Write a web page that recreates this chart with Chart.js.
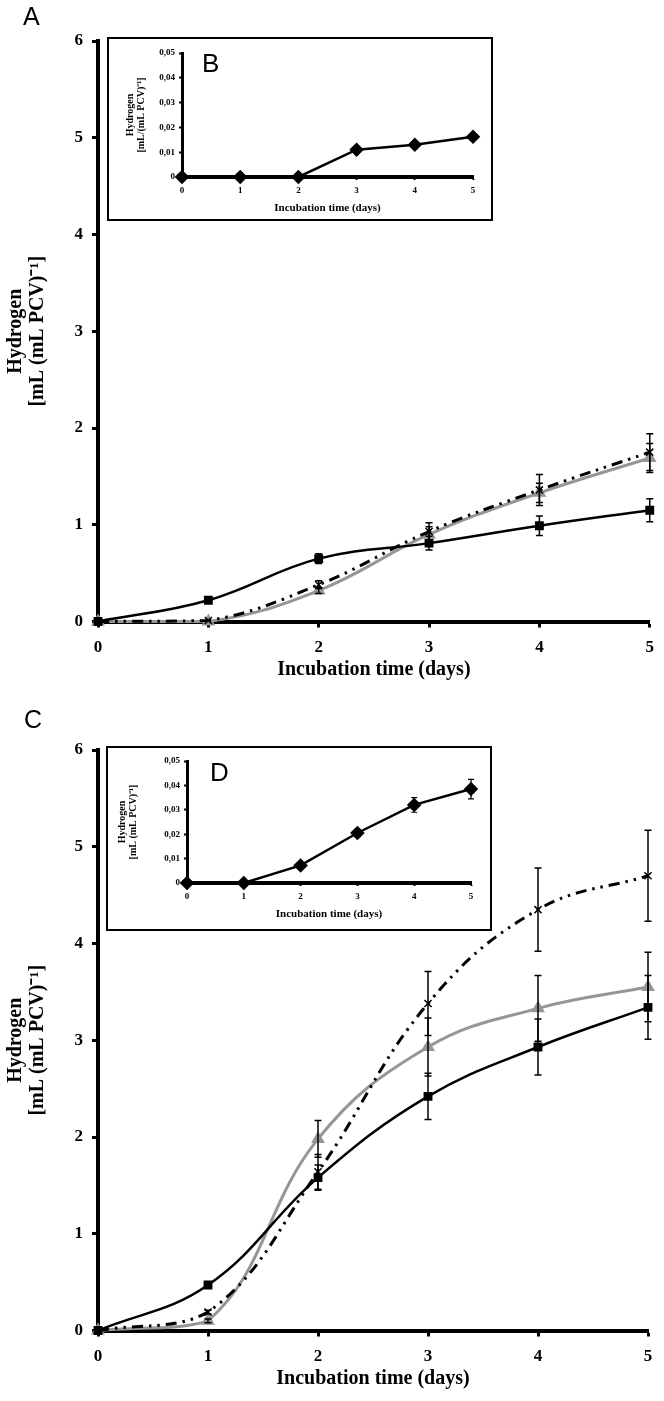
<!DOCTYPE html>
<html>
<head>
<meta charset="utf-8">
<script src="https://cdn.jsdelivr.net/npm/chart.js@4.4.1/dist/chart.umd.min.js"></script>
<style>
  body { margin: 0; background: #fff; }
  #wrap { position: relative; width: 664px; height: 1401px; overflow: hidden; }
  canvas { position: absolute; }
  .inset { position: absolute; box-sizing: border-box; border: 2px solid #000; background: #fff; }
  .inset canvas { left: 0; top: 0; }
  .letter { position: absolute; font-family: "Liberation Sans", Arial, sans-serif; line-height: 1; color: #000; }
</style>
</head>
<body>
<div id="wrap">
  <canvas id="chartA" width="664" height="692" style="left:0;top:0"></canvas>
  <div class="inset" style="left:107px;top:37px;width:386px;height:184px">
    <canvas id="chartB" width="382" height="180"></canvas>
  </div>
  <canvas id="chartC" width="664" height="692" style="left:0;top:709px"></canvas>
  <div class="inset" style="left:106px;top:746px;width:386px;height:185px">
    <canvas id="chartD" width="382" height="181"></canvas>
  </div>
  <div class="letter" style="left:23px;top:4px;font-size:25px">A</div>
  <div class="letter" style="left:202px;top:50px;font-size:26px">B</div>
  <div class="letter" style="left:24px;top:707px;font-size:25px">C</div>
  <div class="letter" style="left:210px;top:759px;font-size:26px">D</div>
</div>
<script>
// incubation days
var days = [0, 1, 2, 3, 4, 5];

// panel A (main)
var aSquare = [0, 0.22, 0.65, 0.81, 0.99, 1.15];
var aSquareErr = [0, 0.02, 0.05, 0.07, 0.10, 0.12];
var aCross = [0, 0.01, 0.38, 0.93, 1.36, 1.75];
var aCrossErr = [0, 0, 0.04, 0.09, 0.16, 0.19];
var aTri = [0, 0, 0.32, 0.90, 1.33, 1.69];
var aTriErr = [0, 0, 0.03, 0.08, 0.10, 0.15];

// panel B (inset of A)
var bDiamond = [0, 0, 0, 0.0110, 0.0130, 0.0162];

// panel C (main)
var cSquare = [0, 0.47, 1.58, 2.42, 2.93, 3.34];
var cSquareErr = [0, 0.03, 0.13, 0.24, 0.29, 0.33];
var cCross = [0, 0.19, 1.64, 3.38, 4.35, 4.70];
var cCrossErr = [0, 0.02, 0.18, 0.33, 0.43, 0.47];
var cTri = [0, 0.10, 1.98, 2.93, 3.33, 3.55];
var cTriErr = [0, 0.02, 0.19, 0.30, 0.34, 0.36];

// panel D (inset of C)
var dDiamond = [0, 0, 0.0072, 0.0205, 0.0320, 0.0385];
var dDiamondErr = [0, 0, 0.0008, 0.0015, 0.0030, 0.0040];

var mainTicks = { min: 0, max: 6, step: 1 };
var insetTicks = { min: 0, max: 0.05, step: 0.01 };

var serif = '"Liberation Serif", "Times New Roman", serif';

function pts(vals) {
  return days.map(function (d, i) { return { x: d, y: vals[i] }; });
}

// vertical error bars with caps, drawn through the chart's own scales
var errorBars = {
  id: 'errorBars',
  afterDatasetsDraw: function (chart) {
    var ctx = chart.ctx, x = chart.scales.x, y = chart.scales.y;
    chart.data.datasets.forEach(function (ds) {
      if (!ds.errors) return;
      ctx.save();
      ctx.strokeStyle = '#000';
      ctx.lineWidth = ds.errWidth || 1.5;
      ds.data.forEach(function (p, j) {
        var e = ds.errors[j];
        if (!e) return;
        var px = x.getPixelForValue(p.x);
        var top = y.getPixelForValue(p.y + e);
        var bot = y.getPixelForValue(p.y - e);
        var c = ds.capSize || 3.5;
        ctx.beginPath();
        ctx.moveTo(px, top); ctx.lineTo(px, bot);
        ctx.moveTo(px - c, top); ctx.lineTo(px + c, top);
        ctx.moveTo(px - c, bot); ctx.lineTo(px + c, bot);
        ctx.stroke();
      });
      ctx.restore();
    });
  }
};

function mainChart(id, sq, sqErr, cr, crErr, tr, trErr, padRight) {
  var H = 692, axisY = 621.5;
  var xHeight = H - axisY;
  return new Chart(document.getElementById(id).getContext('2d'), {
    type: 'line',
    data: {
      datasets: [{
        label: 'squares',
        data: pts(sq), errors: sqErr,
        borderColor: '#000', backgroundColor: '#000', borderWidth: 2.5,
        pointStyle: 'rect', pointRadius: 4.5, tension: 0.4, clip: false
      }, {
        label: 'crosses',
        data: pts(cr), errors: crErr,
        borderColor: '#000', backgroundColor: '#000', borderWidth: 3,
        borderDash: [11, 6, 2.5, 6, 2.5, 6],
        pointStyle: 'crossRot', pointRadius: 5, pointBorderWidth: 1.5, tension: 0.4, clip: false
      }, {
        label: 'triangles',
        data: pts(tr), errors: trErr,
        borderColor: '#969696', backgroundColor: '#969696', borderWidth: 3,
        pointStyle: 'triangle', pointRadius: 5, tension: 0.4, clip: false
      }]
    },
    options: {
      responsive: false,
      animation: false,
      layout: { padding: { left: 0, top: 41, right: padRight, bottom: 0 } },
      plugins: { legend: { display: false }, tooltip: { enabled: false } },
      scales: {
        x: {
          type: 'linear', min: 0, max: 5,
          afterFit: function (s) { s.height = xHeight; },
          ticks: { stepSize: 1, padding: 10, color: '#000', font: { family: serif, size: 17, weight: 'bold' } },
          grid: { drawOnChartArea: false, tickLength: 6, tickWidth: 3, tickColor: '#000' },
          border: { color: '#000', width: 4 },
          title: {
            display: true, text: 'Incubation time (days)', color: '#000',
            font: { family: serif, size: 20, weight: 'bold' },
            padding: { top: 0, bottom: xHeight - 48 - 12 }
          }
        },
        y: {
          min: mainTicks.min, max: mainTicks.max,
          afterFit: function (s) { s.width = 98; },
          ticks: { stepSize: mainTicks.step, padding: 9, color: '#000', font: { family: serif, size: 17, weight: 'bold' } },
          grid: { drawOnChartArea: false, tickLength: 6, tickWidth: 3, tickColor: '#000' },
          border: { color: '#000', width: 4 },
          title: {
            display: true, text: ['Hydrogen', '[mL (mL PCV)\u207B\u00B9]'], color: '#000',
            font: { family: serif, size: 20, weight: 'bold', lineHeight: 1.1 },
            padding: { top: 5, bottom: 0 }
          }
        }
      }
    },
    plugins: [errorBars]
  });
}

function insetChart(id, vals, errs, yTitle, yWidth, top, padRight, xHeight, yTitlePad) {
  return new Chart(document.getElementById(id).getContext('2d'), {
    type: 'line',
    data: {
      datasets: [{
        label: 'diamonds',
        data: pts(vals), errors: errs, errWidth: 1.2, capSize: 3,
        borderColor: '#000', backgroundColor: '#000', borderWidth: 2.5,
        pointStyle: 'rectRot', pointRadius: 5.5, tension: 0, clip: false
      }]
    },
    options: {
      responsive: false,
      animation: false,
      layout: { padding: { left: 0, top: top, right: padRight, bottom: 0 } },
      plugins: { legend: { display: false }, tooltip: { enabled: false } },
      scales: {
        x: {
          type: 'linear', min: 0, max: 5,
          afterFit: function (s) { s.height = xHeight; },
          ticks: { stepSize: 1, padding: 5, color: '#000', font: { family: serif, size: 9, weight: 'bold' } },
          grid: { drawOnChartArea: false, tickLength: 3, tickWidth: 2, tickColor: '#000' },
          border: { color: '#000', width: 4 },
          title: {
            display: true, text: 'Incubation time (days)', color: '#000',
            font: { family: serif, size: 11, weight: 'bold' },
            padding: { top: 0, bottom: xHeight - 31 - 6.6 }
          }
        },
        y: {
          min: insetTicks.min, max: insetTicks.max,
          afterFit: function (s) { s.width = yWidth; },
          ticks: {
            stepSize: insetTicks.step, padding: 4, color: '#000',
            font: { family: serif, size: 9, weight: 'bold' },
            callback: function (v) { return v === 0 ? '0' : v.toFixed(2).replace('.', ','); }
          },
          grid: { drawOnChartArea: false, tickLength: 3, tickWidth: 2, tickColor: '#000' },
          border: { color: '#000', width: 3 },
          title: {
            display: true, text: yTitle, color: '#000',
            font: { family: serif, size: 10, weight: 'bold', lineHeight: 1.1 },
            padding: { top: yTitlePad, bottom: 0 }
          }
        }
      }
    },
    plugins: [errorBars]
  });
}

var chartA = mainChart('chartA', aSquare, aSquareErr, aCross, aCrossErr, aTri, aTriErr, 12);
var chartB = insetChart('chartB', bDiamond, null, ['Hydrogen', '[mL/(mL PCV)\u207B\u00B9]'], 73, 14, 18, 42, 15.5);
var chartC = mainChart('chartC', cSquare, cSquareErr, cCross, cCrossErr, cTri, cTriErr, 16);
var chartD = insetChart('chartD', dDiamond, dDiamondErr, ['Hydrogen', '[mL (mL PCV)\u207B\u00B9]'], 79, 13, 19, 46, 9);
</script>
</body>
</html>
